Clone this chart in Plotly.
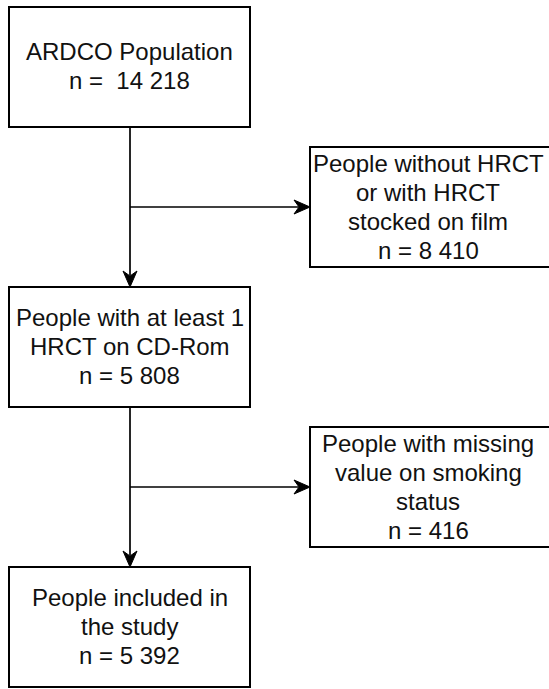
import plotly.graph_objects as go

# Data: flowchart box labels and counts
main_labels = [["ARDCO Population"], ["People with at least 1", "HRCT on CD-Rom"], ["People included in", "the study"]]
main_counts = ["14 218", "5 808", "5 392"]
side_labels = [["People without HRCT", "or with HRCT", "stocked on film"], ["People with missing", "value on smoking", "status"]]
side_counts = ["8 410", "416"]

W, H = 549, 689
main_x = (9, 250)
main_y = [(7, 127), (287, 407), (567, 687)]
side_x = (310, 560)
side_y = [(147, 267), (427, 547)]
cx = 130
branch_y = [207, 487]
LS = 29  # line spacing px

fig = go.Figure()
shapes = []
annotations = []
font = dict(family="Liberation Sans, Arial, sans-serif", size=24, color="#111111")

def box(x0, x1, y0, y1):
    shapes.append(dict(type="rect", x0=x0, x1=x1, y0=y0, y1=y1, xref="x", yref="y",
                       line=dict(color="black", width=2), fillcolor="white", layer="above"))

def open_box(x0, x1, y0, y1):
    # box running past the right edge of the picture: only top, left, bottom sides visible
    shapes.append(dict(type="path", path=f"M {x1},{y0} L {x0},{y0} L {x0},{y1} L {x1},{y1}",
                       xref="x", yref="y", line=dict(color="black", width=2),
                       fillcolor="rgba(0,0,0,0)", layer="above"))

def line(x0, y0, x1, y1):
    shapes.append(dict(type="line", x0=x0, y0=y0, x1=x1, y1=y1, xref="x", yref="y",
                       line=dict(color="black", width=1.7)))

def head(tx, ty, direction):
    L, Wd, N = 16, 7, 5
    if direction == "right":
        pts = [(tx, ty), (tx - L, ty - Wd), (tx - L + N, ty), (tx - L, ty + Wd)]
    else:
        pts = [(tx, ty), (tx - Wd, ty - L), (tx, ty - L + N), (tx + Wd, ty - L)]
    path = "M " + " L ".join(f"{x},{y}" for x, y in pts) + " Z"
    shapes.append(dict(type="path", path=path, xref="x", yref="y",
                       fillcolor="black", line=dict(color="black", width=1)))

def text_block(xc, yc, lines):
    n = len(lines)
    for k, t in enumerate(lines):
        y = yc + (k - (n - 1) / 2) * LS
        annotations.append(dict(x=xc, y=y, xref="x", yref="y", text=t, showarrow=False,
                                font=font, xanchor="center", yanchor="middle"))

for i, (y0, y1) in enumerate(main_y):
    box(main_x[0], main_x[1], y0, y1)
    n_txt = ("n = &nbsp;" if i == 0 else "n = ") + main_counts[i]
    text_block((main_x[0] + main_x[1]) / 2, (y0 + y1) / 2 - 1, main_labels[i] + [n_txt])

for i, (y0, y1) in enumerate(side_y):
    open_box(side_x[0], side_x[1], y0, y1)
    text_block(428, (y0 + y1) / 2, side_labels[i] + ["n = " + side_counts[i]])

# connectors
for i in range(2):
    line(cx, main_y[i][1], cx, main_y[i + 1][0] - 12)
    head(cx, main_y[i + 1][0], "down")
    line(cx, branch_y[i], side_x[0] - 12, branch_y[i])
    head(side_x[0], branch_y[i], "right")

fig.update_layout(
    width=W, height=H, margin=dict(l=0, r=0, t=0, b=0),
    paper_bgcolor="white", plot_bgcolor="white",
    xaxis=dict(range=[0, W], visible=False, fixedrange=True),
    yaxis=dict(range=[H, 0], visible=False, fixedrange=True),
    shapes=shapes, annotations=annotations, showlegend=False,
)
fig.write_html("out.html", config={"displayModeBar": False},
               post_script="document.body.style.margin='0px';document.body.style.overflow='hidden';")
